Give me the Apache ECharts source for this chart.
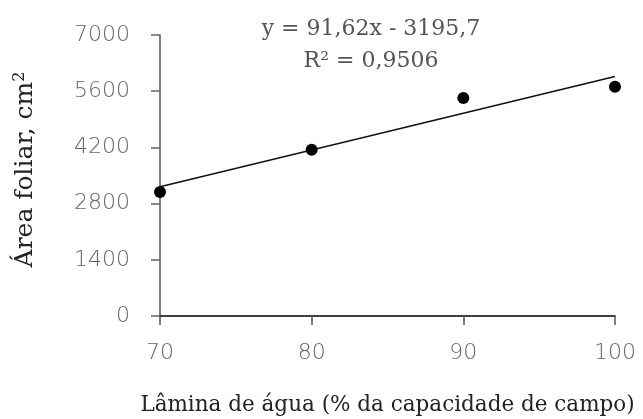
<!DOCTYPE html>
<html>
<head>
<meta charset="utf-8">
<script src="https://cdn.jsdelivr.net/npm/echarts@6/dist/echarts.min.js"></script>
<style>
  html, body { margin: 0; padding: 0; background: #fff; }
  #chart { width: 643px; height: 419px; }
</style>
</head>
<body>
<div id="chart"></div>
<script>
// Leaf area measured at each irrigation depth
const waterDepth = [70, 80, 90, 100];
const leafArea = [3090, 4140, 5430, 5710];

// Fitted linear regression: y = slope * x + intercept
const slope = 91.62;
const intercept = -3195.7;
const equationText = 'y = 91,62x - 3195,7';
const r2Text = 'R² = 0,9506';

const xTicks = { min: 70, max: 100, interval: 10 };
const yTicks = { min: 0, max: 7000, interval: 1400 };

const fitLine = [xTicks.min, xTicks.max].map(x => [x, slope * x + intercept]);
const points = waterDepth.map((x, i) => [x, leafArea[i]]);

const tickFont = 'DejaVu Sans';
const serif = 'DejaVu Serif';

const chart = echarts.init(document.getElementById('chart'), null, { renderer: 'canvas' });
chart.setOption({
  animation: false,
  backgroundColor: '#ffffff',
  grid: { left: 160, right: 28, top: 35, bottom: 103, containLabel: false, outerBoundsMode: 'none' },
  xAxis: {
    type: 'value',
    min: xTicks.min, max: xTicks.max, interval: xTicks.interval,
    name: 'Lâmina de água (% da capacidade de campo)',
    nameLocation: 'middle',
    nameGap: 78,
    nameTextStyle: { fontFamily: serif, fontSize: 21.5, color: '#222' },
    axisLine: { show: true, onZero: false, lineStyle: { color: '#000', width: 1.5 } },
    axisTick: { show: true, inside: false, length: 9, lineStyle: { color: '#555', width: 1.5 } },
    axisLabel: { margin: 26, fontFamily: tickFont, fontWeight: 200, fontSize: 22, color: '#666',
                 formatter: v => String(v) },
    splitLine: { show: false }
  },
  yAxis: {
    type: 'value',
    min: yTicks.min, max: yTicks.max, interval: yTicks.interval,
    name: '{t|Área foliar, cm}{s|2}',
    nameLocation: 'middle',
    nameGap: 122,
    nameRotate: 90,
    nameTextStyle: {
      fontFamily: serif, fontSize: 25, color: '#222',
      padding: [0, 0, 0, 12],
      rich: {
        t: { fontFamily: serif, fontSize: 25, color: '#222' },
        s: { fontFamily: serif, fontSize: 16, color: '#222', verticalAlign: 'top', padding: [0, 0, 10, 0] }
      }
    },
    axisLine: { show: true, lineStyle: { color: '#808080', width: 2 } },
    axisTick: { show: true, inside: false, length: 9, lineStyle: { color: '#666', width: 1.5 } },
    axisLabel: { margin: 30, fontFamily: tickFont, fontWeight: 200, fontSize: 22, color: '#666',
                 formatter: v => String(v) },
    splitLine: { show: false }
  },
  series: [
    {
      type: 'line',
      data: fitLine,
      symbol: 'none',
      lineStyle: { color: '#111', width: 1.5 },
      z: 2
    },
    {
      type: 'scatter',
      data: points,
      symbol: 'circle',
      symbolSize: 12,
      itemStyle: { color: '#000', opacity: 1 },
      z: 3
    }
  ],
  graphic: [
    {
      type: 'text', x: 371, y: 29,
      style: { text: equationText, fontFamily: serif, fontSize: 22, fill: '#555',
               align: 'center', verticalAlign: 'middle' }
    },
    {
      type: 'text', x: 371, y: 61,
      style: { text: r2Text, fontFamily: serif, fontSize: 22, fill: '#555',
               align: 'center', verticalAlign: 'middle' }
    }
  ]
});
</script>
</body>
</html>
